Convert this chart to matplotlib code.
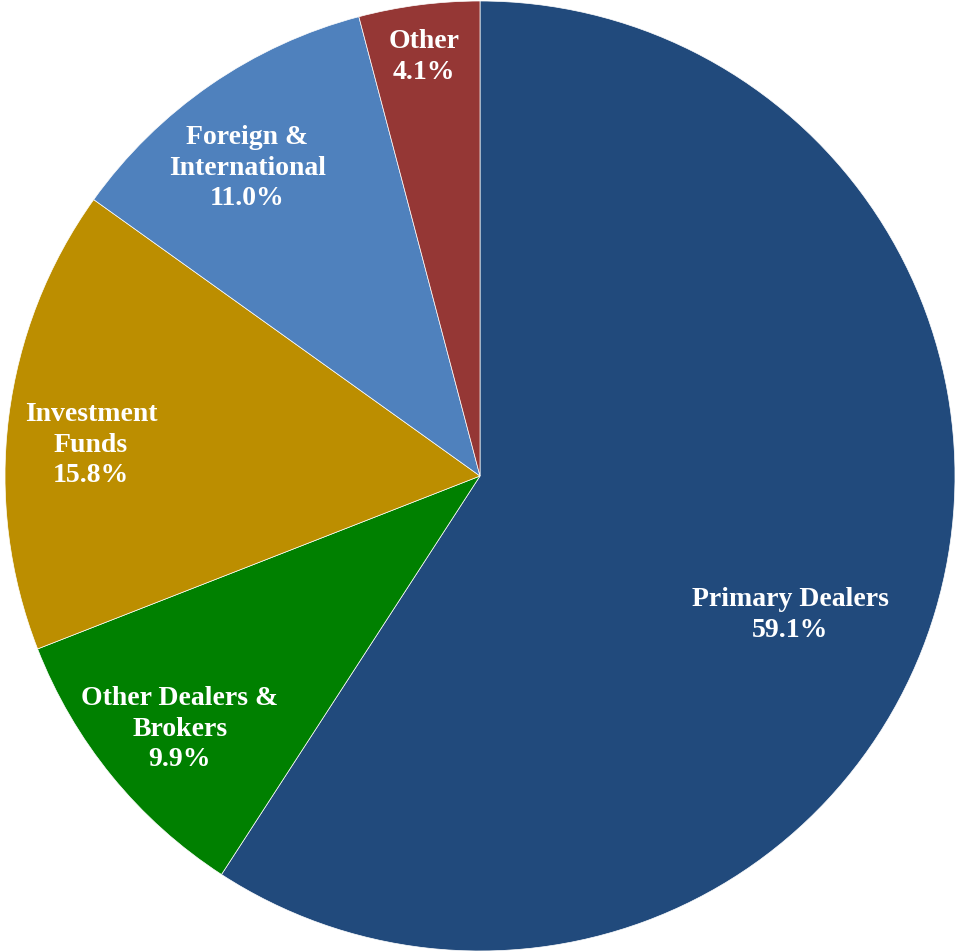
import matplotlib
matplotlib.use("Agg")
import matplotlib.pyplot as plt
import numpy as np

categories = ["Primary Dealers", "Other Dealers &\nBrokers", "Investment\nFunds",
              "Foreign &\nInternational", "Other"]
values = [59.1, 9.9, 15.8, 11.0, 4.1]
colors = ["#214A7C", "#008000", "#BC8E00", "#4F81BD", "#953735"]
# label centres in pie-radius units
label_pos = [(0.653, -0.291), (-0.632, -0.531), (-0.819, 0.067),
             (-0.490, 0.650), (-0.118, 0.884)]

W, H = 957, 953
fig = plt.figure(figsize=(W / 100, H / 100), dpi=100)
ax = fig.add_axes([5 / W, 1 / H, 950 / W, 950 / H])
wedges, _ = ax.pie(values, colors=colors, startangle=90, counterclock=False,
                   radius=1.0, normalize=True,
                   wedgeprops=dict(linewidth=0.5, edgecolor="white"))
ax.set_xlim(-1, 1)
ax.set_ylim(-1, 1)
ax.set_aspect("auto")
ax.axis("off")

for cat, v, (x, y) in zip(categories, values, label_pos):
    ax.text(x, y, f"{cat}\n{v:.1f}%",
            ha="center", va="center", color="white", fontsize=20,
            fontweight="bold", family="Liberation Serif", linespacing=1.3)

fig.savefig("out.png", dpi=100)
